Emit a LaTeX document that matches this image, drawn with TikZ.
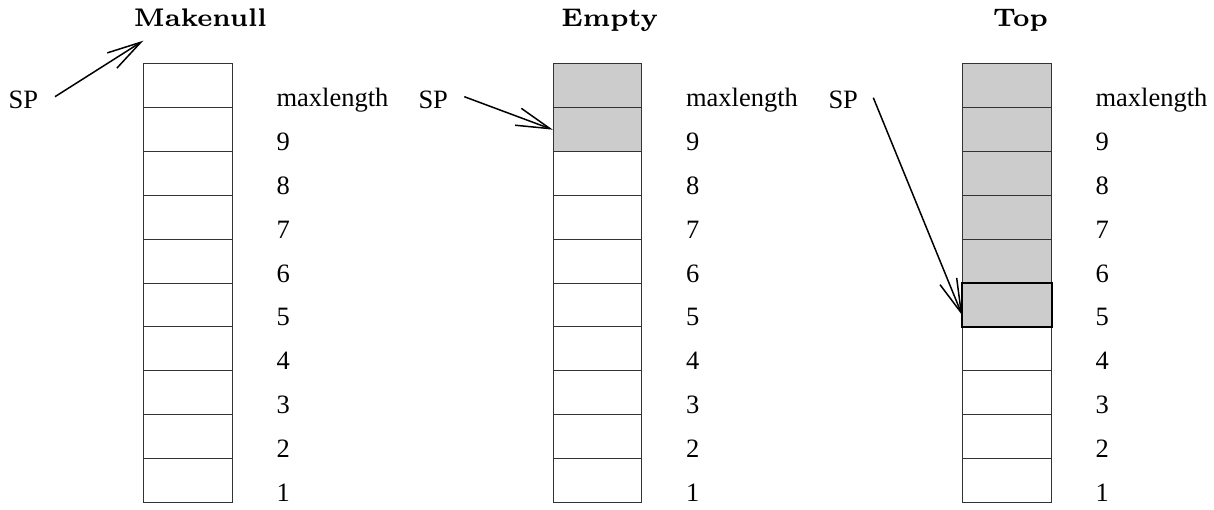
\documentclass[tikz,border=0pt]{standalone}
\usepackage{fontspec}
\setmainfont{Liberation Serif}
\newfontfamily\titlefont{lmroman7-bold.otf}
\usetikzlibrary{arrows.meta}
\begin{document}
\begin{tikzpicture}[x=1pt,y=-1pt,
  cell/.style={draw=black!80, line width=0.9pt, minimum width=88.3pt,
    minimum height=43.82pt, inner sep=0pt, anchor=north west},
  lbl/.style={font=\fontsize{26.5}{30}\selectfont, anchor=base west, inner sep=0pt},
  ttl/.style={font=\titlefont\fontsize{25.5}{29}\selectfont, anchor=base, inner sep=0pt},
  ptr/.style={line width=1.5pt, -{Straight Barb[length=34pt,width=18pt,line width=1.5pt]}}]
\useasboundingbox (0,0) rectangle (1214,510);

% three stacks: index / left edge / number of occupied cells
\foreach \s/\L/\g in {1/143.3/0, 2/552.8/2, 3/962.3/6} {
  \foreach \t [count=\i] in {maxlength,9,8,7,6,5,4,3,2,1} {
    \pgfmathsetmacro\yy{63.5+(\i-1)*43.82}
    \pgfmathsetmacro\yb{\yy+43.82-0.5}
    \ifnum\i>\g\relax\def\cf{white}\else\def\cf{black!20}\fi
    \node[cell, fill=\cf] (cell-\s-\i) at (\L,\yy) {};
    \node[lbl] (lab-\s-\i) at (\L+133,\yb) {\t};
  }
}

% current top element
\draw[line width=2pt] (cell-3-6.north west) rectangle (cell-3-6.south east);

% titles
\node[ttl] (t1) at (200.2,27) {Makenull};
\node[ttl] (t2) at (609.7,27) {Empty};
\node[ttl] (t3) at (1020.5,27) {Top};

% stack pointers
\node[lbl] (sp1) at (8.5,108.3) {SP};
\node[lbl] (sp2) at (418.3,108.3) {SP};
\node[lbl] (sp3) at (828.3,108.3) {SP};

\coordinate (s1) at (55,96.7);
\coordinate (e1) at (143.3,40.7);
\coordinate (s2) at (464.3,96.7);
\coordinate (s3) at (873.3,97.7);

\draw[ptr] (s1) -- (e1);
\draw[ptr] (s2) -- (cell-2-2.west);
\draw[ptr] (s3) -- ([yshift=-10.5pt]cell-3-6.west);
\end{tikzpicture}
\end{document}
